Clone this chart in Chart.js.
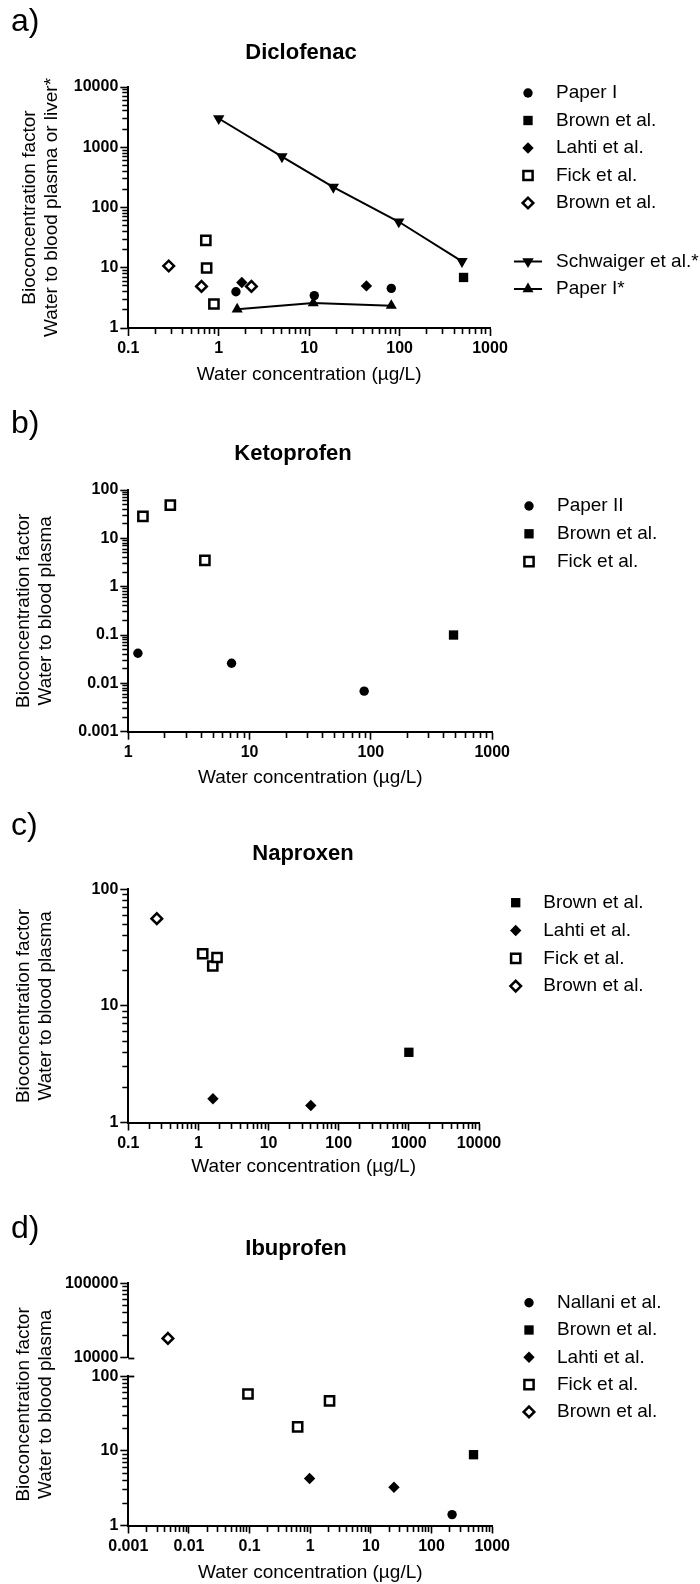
<!DOCTYPE html>
<html>
<head>
<meta charset="utf-8">
<script src="https://cdn.jsdelivr.net/npm/chart.js@4.4.0/dist/chart.umd.min.js"></script>
<style>
  body { margin: 0; background: #fff; }
  #page { position: relative; width: 700px; height: 1584px; }
  #page canvas { position: absolute; left: 0; }
</style>
</head>
<body>
<div id="page">
  <canvas id="chartA" width="700" height="392" style="top:0px"></canvas>
  <canvas id="chartB" width="700" height="400" style="top:392px"></canvas>
  <canvas id="chartC" width="700" height="390" style="top:792px"></canvas>
  <canvas id="chartD" width="700" height="402" style="top:1182px"></canvas>
</div>
<script>
const FONT = '"Liberation Sans", Arial, Helvetica, sans-serif';
const X_TITLE = 'Water concentration (µg/L)';
const Y_TITLE_A = ['Bioconcentration factor', 'Water to blood plasma or liver*'];
const Y_TITLE = ['Bioconcentration factor', 'Water to blood plasma'];

// ---- a) Diclofenac
const dicloXTicks = ['0.1', '1', '10', '100', '1000'];
const dicloYTicks = ['1', '10', '100', '1000', '10000'];
const dicloPaperIX = [1.55, 11.4, 81];
const dicloPaperIY = [4.0, 3.45, 4.55];
const dicloBrownX = [510];
const dicloBrownY = [6.9];
const dicloLahtiX = [1.8, 43];
const dicloLahtiY = [5.7, 5.0];
const dicloFickX = [0.72, 0.735, 0.885];
const dicloFickY = [28.5, 9.9, 2.5];
const dicloBrownOpenX = [0.28, 0.645, 2.3];
const dicloBrownOpenY = [10.7, 4.9, 4.9];
const dicloSchwaigerX = [1, 5, 18.5, 98, 490];
const dicloSchwaigerY = [3000, 700, 218, 58, 12.8];
const dicloPaperIStarX = [1.6, 11.1, 81];
const dicloPaperIStarY = [2.05, 2.6, 2.35];

// ---- b) Ketoprofen
const ketoXTicks = ['1', '10', '100', '1000'];
const ketoYTicks = ['0.001', '0.01', '0.1', '1', '10', '100'];
const ketoPaperIIX = [1.2, 7.1, 88];
const ketoPaperIIY = [0.042, 0.026, 0.0069];
const ketoBrownX = [480];
const ketoBrownY = [0.1];
const ketoFickX = [1.32, 2.22, 4.28];
const ketoFickY = [28.5, 48.5, 3.5];

// ---- c) Naproxen
const naproXTicks = ['0.1', '1', '10', '100', '1000', '10000'];
const naproYTicks = ['1', '10', '100'];
const naproBrownX = [1000];
const naproBrownY = [4.0];
const naproLahtiX = [1.61, 40];
const naproLahtiY = [1.6, 1.4];
const naproFickX = [1.15, 1.6, 1.84];
const naproFickY = [28, 22, 26];
const naproBrownOpenX = [0.255];
const naproBrownOpenY = [56];

// ---- d) Ibuprofen (broken y axis)
const ibuXTicks = ['0.001', '0.01', '0.1', '1', '10', '100', '1000'];
const ibuYLowTicks = ['1', '10', '100'];
const ibuYHighTicks = ['10000', '100000'];
const ibuNallaniX = [218];
const ibuNallaniY = [1.4];
const ibuBrownX = [492];
const ibuBrownY = [8.9];
const ibuLahtiX = [0.975, 24];
const ibuLahtiY = [4.26, 3.26];
const ibuFickX = [0.094, 0.62, 2.08];
const ibuFickY = [58, 21, 47];
const ibuBrownOpenX = [0.0045];
const ibuBrownOpenY = [18200];

Chart.defaults.font.family = FONT;
Chart.defaults.color = '#000';

const MARK = {
  dot:     { pointStyle: 'circle',   pointRadius: 4.7, pointBackgroundColor: '#000', pointBorderColor: '#000', pointBorderWidth: 0 },
  sq:      { pointStyle: 'rect',     pointRadius: 6.6, pointBackgroundColor: '#000', pointBorderColor: '#000', pointBorderWidth: 0 },
  dia:     { pointStyle: 'rectRot',  pointRadius: 5.7, pointBackgroundColor: '#000', pointBorderColor: '#000', pointBorderWidth: 0 },
  openSq:  { pointStyle: 'rect',     pointRadius: 6.5, pointBackgroundColor: '#fff', pointBorderColor: '#000', pointBorderWidth: 2.5 },
  openDia: { pointStyle: 'rectRot',  pointRadius: 5.3, pointBackgroundColor: '#fff', pointBorderColor: '#000', pointBorderWidth: 2.5 },
  triDown: { pointStyle: 'triangle', pointRotation: 180, pointRadius: 6.6, pointBackgroundColor: '#000', pointBorderColor: '#000', pointBorderWidth: 0 },
  triUp:   { pointStyle: 'triangle', pointRadius: 6.4, pointBackgroundColor: '#000', pointBorderColor: '#000', pointBorderWidth: 0 }
};

function series(label, xs, ys, mark, extra) {
  return Object.assign({
    label: label,
    data: xs.map((x, i) => ({ x: x, y: ys[i] })),
    showLine: false,
    borderColor: '#000',
    borderWidth: 2,
    clip: false
  }, MARK[mark], extra || {});
}

function isDecade(v) {
  const l = Math.log10(v);
  return Math.abs(l - Math.round(l)) < 1e-6;
}

function tickLabeler(labels) {
  return function (value) {
    const hit = labels.find(t => Math.abs(Math.log10(Number(t)) - Math.log10(value)) < 1e-6);
    return hit === undefined ? '' : hit;
  };
}

// classic log ticks: 1..9 x 10^n inside the axis range
function decadeTicks(scale) {
  const out = [];
  const lo = Math.floor(Math.log10(scale.min) + 1e-9);
  const hi = Math.ceil(Math.log10(scale.max) - 1e-9);
  for (let e = lo; e <= hi; e++) {
    for (let m = 1; m <= 9; m++) {
      const v = Number((m * Math.pow(10, e)).toPrecision(6));
      if (v >= scale.min * (1 - 1e-9) && v <= scale.max * (1 + 1e-9)) out.push({ value: v, major: m === 1 });
    }
  }
  scale.ticks = out;
}

const tickFont = { family: FONT, size: 16, weight: 'bold' };
const titleFont = { family: FONT, size: 19, lineHeight: 1.15 };

function logX(min, max, labels, height, titlePad) {
  return {
    type: 'logarithmic', position: 'bottom', min: min, max: max,
    afterBuildTicks: decadeTicks,
    afterFit(s) { s.height = height; },
    border: { display: true, color: '#000', width: 2 },
    grid: {
      drawOnChartArea: false, drawTicks: true, tickLength: 8, tickWidth: 1.6, tickColor: '#000',
      tickBorderDash: c => (c.tick && !isDecade(c.tick.value)) ? [5, 20] : []
    },
    ticks: { autoSkip: false, maxRotation: 0, padding: 3, color: '#000', font: tickFont, callback: tickLabeler(labels) },
    title: { display: true, text: X_TITLE, color: '#000', font: titleFont, padding: { top: 0, bottom: titlePad } }
  };
}

function logY(min, max, labels, width, title, titlePad) {
  return {
    type: 'logarithmic', position: 'left', min: min, max: max,
    afterBuildTicks: decadeTicks,
    afterFit(s) { s.width = width; },
    border: { display: true, color: '#000', width: 2 },
    grid: {
      drawOnChartArea: false, drawTicks: true, tickLength: 8, tickWidth: 1.6, tickColor: '#000',
      tickBorderDash: c => (c.tick && !isDecade(c.tick.value)) ? [0, 2, 20, 0] : []
    },
    ticks: { autoSkip: false, padding: 2, color: '#000', font: tickFont, callback: tickLabeler(labels) },
    title: title
      ? { display: true, text: title, color: '#000', font: titleFont, padding: { top: titlePad, bottom: 0 } }
      : { display: false }
  };
}

// panel letter, heading, legend and axis-break stubs drawn on the canvas
const panelDecor = {
  id: 'panelDecor',
  afterDraw(chart, args, o) {
    const ctx = chart.ctx;
    ctx.save();
    ctx.fillStyle = '#000';
    ctx.textAlign = 'left';
    ctx.textBaseline = 'alphabetic';
    ctx.font = '32px ' + FONT;
    ctx.fillText(o.letter, o.letterX, o.letterY);

    ctx.textAlign = 'center';
    ctx.textBaseline = 'middle';
    ctx.font = 'bold 22px ' + FONT;
    ctx.fillText(o.title, o.titleX, o.titleY);

    ctx.textAlign = 'left';
    ctx.font = '19px ' + FONT;
    chart.data.datasets.forEach((ds, i) => {
      const y = o.legendY + i * o.legendStep + (o.gapAfter !== undefined && i > o.gapAfter ? o.legendGap : 0);
      const mx = o.markX;
      if (ds.showLine) {
        ctx.strokeStyle = '#000';
        ctx.lineWidth = 2;
        ctx.beginPath();
        ctx.moveTo(mx - 14, y);
        ctx.lineTo(mx + 14, y);
        ctx.stroke();
      }
      ctx.fillStyle = ds.pointBackgroundColor;
      ctx.strokeStyle = ds.pointBorderColor;
      ctx.lineWidth = ds.pointBorderWidth;
      Chart.helpers.drawPoint(ctx, {
        pointStyle: ds.pointStyle, radius: ds.pointRadius,
        rotation: ds.pointRotation || 0, borderWidth: ds.pointBorderWidth
      }, mx, y);
      ctx.fillStyle = '#000';
      ctx.fillText(ds.label, o.textX, y);
    });

    (o.breaks || []).forEach(b => {
      const s = chart.scales[b.axis];
      const y = Math.round(s.getPixelForValue(b.value)) + 0.5;
      ctx.strokeStyle = '#000';
      ctx.lineWidth = 1.8;
      ctx.beginPath();
      ctx.moveTo(s.right, y);
      ctx.lineTo(s.right + 6, y);
      ctx.stroke();
    });
    ctx.restore();
  }
};

function baseOptions(padding, decor, scales) {
  return {
    responsive: false, animation: false, events: [], devicePixelRatio: 1,
    layout: { padding: padding },
    plugins: { legend: { display: false }, title: { display: false }, tooltip: { enabled: false }, panelDecor: decor },
    scales: scales
  };
}

// a) Diclofenac
new Chart(document.getElementById('chartA'), {
  type: 'scatter',
  data: { datasets: [
    series('Paper I', dicloPaperIX, dicloPaperIY, 'dot'),
    series('Brown et al.', dicloBrownX, dicloBrownY, 'sq'),
    series('Lahti et al.', dicloLahtiX, dicloLahtiY, 'dia'),
    series('Fick et al.', dicloFickX, dicloFickY, 'openSq'),
    series('Brown et al.', dicloBrownOpenX, dicloBrownOpenY, 'openDia'),
    series('Schwaiger et al.*', dicloSchwaigerX, dicloSchwaigerY, 'triDown', { showLine: true }),
    series('Paper I*', dicloPaperIStarX, dicloPaperIStarY, 'triUp', { showLine: true })
  ] },
  options: baseOptions(
    { left: 0, right: 210, top: 87, bottom: 0 },
    { letter: 'a)', letterX: 11, letterY: 31, title: 'Diclofenac', titleX: 301, titleY: 52.5,
      markX: 528, textX: 556, legendY: 93, legendStep: 27.5, gapAfter: 4, legendGap: 31 },
    { x: logX(0.1, 1000, dicloXTicks, 64, 6),
      y: logY(1, 10000, dicloYTicks, 128.3, Y_TITLE_A, 19) }
  ),
  plugins: [panelDecor]
});

// b) Ketoprofen
new Chart(document.getElementById('chartB'), {
  type: 'scatter',
  data: { datasets: [
    series('Paper II', ketoPaperIIX, ketoPaperIIY, 'dot'),
    series('Brown et al.', ketoBrownX, ketoBrownY, 'sq'),
    series('Fick et al.', ketoFickX, ketoFickY, 'openSq')
  ] },
  options: baseOptions(
    { left: 0, right: 207.8, top: 98, bottom: 0 },
    { letter: 'b)', letterX: 11, letterY: 41, title: 'Ketoprofen', titleX: 293, titleY: 62,
      markX: 529, textX: 557, legendY: 114, legendStep: 27.8 },
    { x: logX(1, 1000, ketoXTicks, 60.3, 3),
      y: logY(0.001, 100, ketoYTicks, 128.3, Y_TITLE, 12.5) }
  ),
  plugins: [panelDecor]
});

// c) Naproxen
new Chart(document.getElementById('chartC'), {
  type: 'scatter',
  data: { datasets: [
    series('Brown et al.', naproBrownX, naproBrownY, 'sq'),
    series('Lahti et al.', naproLahtiX, naproLahtiY, 'dia'),
    series('Fick et al.', naproFickX, naproFickY, 'openSq'),
    series('Brown et al.', naproBrownOpenX, naproBrownOpenY, 'openDia')
  ] },
  options: baseOptions(
    { left: 0, right: 221, top: 97.3, bottom: 0 },
    { letter: 'c)', letterX: 11, letterY: 43, title: 'Naproxen', titleX: 303, titleY: 62,
      markX: 515.7, textX: 543.3, legendY: 110.7, legendStep: 27.8 },
    { x: logX(0.1, 10000, naproXTicks, 59.5, 4.4),
      y: logY(1, 100, naproYTicks, 128.3, Y_TITLE, 12.5) }
  ),
  plugins: [panelDecor]
});

// d) Ibuprofen: two log segments stacked on the left, with an empty spacer between
const yLow = Object.assign(logY(1, 100, ibuYLowTicks, 68.3, null, 0), { stack: 'ibu', stackWeight: 149.2 });
const yGap = {
  type: 'linear', position: 'left', stack: 'ibu', stackWeight: 18.6,
  afterFit(s) { s.width = 68.3; },
  grid: { display: false }, border: { display: false }, ticks: { display: false }
};
const yHigh = Object.assign(logY(10000, 100000, ibuYHighTicks, 68.3, null, 0), { stack: 'ibu', stackWeight: 74.5 });
const yTitle = {
  type: 'linear', position: 'left',
  afterFit(s) { s.width = 60; },
  grid: { display: false }, border: { display: false }, ticks: { display: false },
  title: { display: true, text: Y_TITLE, color: '#000', font: titleFont, padding: { top: 12.5, bottom: 0 } }
};

new Chart(document.getElementById('chartD'), {
  type: 'scatter',
  data: { datasets: [
    series('Nallani et al.', ibuNallaniX, ibuNallaniY, 'dot', { yAxisID: 'yLow' }),
    series('Brown et al.', ibuBrownX, ibuBrownY, 'sq', { yAxisID: 'yLow' }),
    series('Lahti et al.', ibuLahtiX, ibuLahtiY, 'dia', { yAxisID: 'yLow' }),
    series('Fick et al.', ibuFickX, ibuFickY, 'openSq', { yAxisID: 'yLow' }),
    series('Brown et al.', ibuBrownOpenX, ibuBrownOpenY, 'openDia', { yAxisID: 'yHigh' })
  ] },
  options: baseOptions(
    { left: 0, right: 207.8, top: 101.3, bottom: 0 },
    { letter: 'd)', letterX: 11, letterY: 56, title: 'Ibuprofen', titleX: 296, titleY: 67,
      markX: 529, textX: 557, legendY: 120.7, legendStep: 27.3,
      breaks: [{ axis: 'yHigh', value: 10000 }, { axis: 'yLow', value: 100 }] },
    { x: logX(0.001, 1000, ibuXTicks, 58.5, 0),
      yLow: yLow, yGap: yGap, yHigh: yHigh, yTitle: yTitle }
  ),
  plugins: [panelDecor]
});
</script>
</body>
</html>
